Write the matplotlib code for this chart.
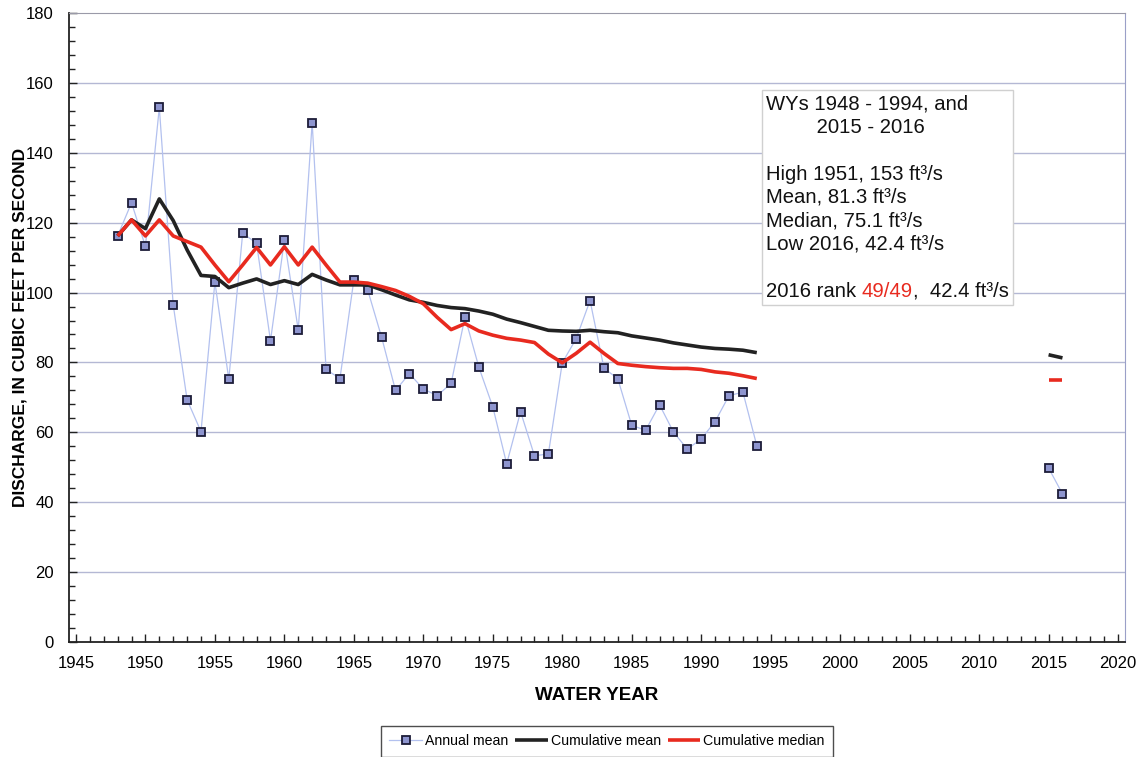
import numpy as np
import matplotlib
matplotlib.use("Agg")
import matplotlib.pyplot as plt
from matplotlib.offsetbox import TextArea, HPacker, VPacker, AnchoredOffsetbox

plt.rcParams['font.family'] = ['Liberation Sans', 'DejaVu Sans']

years = [1948, 1949, 1950, 1951, 1952, 1953, 1954, 1955, 1956, 1957,
         1958, 1959, 1960, 1961, 1962, 1963, 1964, 1965, 1966, 1967,
         1968, 1969, 1970, 1971, 1972, 1973, 1974, 1975, 1976, 1977,
         1978, 1979, 1980, 1981, 1982, 1983, 1984, 1985, 1986, 1987,
         1988, 1989, 1990, 1991, 1992, 1993, 1994, 2015, 2016]

annual_mean = [116.2, 125.7, 113.2, 153.0, 96.5, 69.3, 60.2, 103.0, 75.2, 117.0,
               114.1, 86.2, 115.0, 89.3, 148.6, 78.0, 75.4, 103.6, 100.7, 87.2,
               72.0, 76.8, 72.4, 70.5, 74.0, 93.0, 78.6, 67.3, 51.0, 65.9,
               53.3, 53.8, 79.9, 86.8, 97.7, 78.4, 75.3, 62.0, 60.6, 67.9,
               60.1, 55.2, 58.1, 63.1, 70.5, 71.5, 56.2, 49.8, 42.4]

cumulative_mean = [116.2, 120.8, 118.3, 126.8, 120.6, 112.2, 104.9, 104.6, 101.4, 102.7,
                   103.9, 102.3, 103.4, 102.3, 105.2, 103.6, 102.2, 102.2, 102.2, 100.8,
                   99.3, 97.9, 97.2, 96.3, 95.7, 95.4, 94.7, 93.8, 92.4, 91.4,
                   90.3, 89.2, 89.0, 88.9, 89.2, 88.8, 88.5, 87.6, 87.0, 86.4,
                   85.6, 85.0, 84.4, 84.0, 83.8, 83.5, 82.8, 82.2, 81.3]

cumulative_median = [116.2, 120.8, 116.2, 120.8, 116.2, 114.6, 113.0, 107.9, 103.1, 107.9,
                     112.9, 107.9, 113.1, 107.9, 113.0, 107.9, 103.0, 103.0, 102.7, 101.7,
                     100.6, 98.9, 96.8, 92.9, 89.4, 91.1, 89.0, 87.8, 86.9, 86.4,
                     85.7, 82.4, 79.9, 82.6, 85.8, 82.6, 79.7, 79.2, 78.8, 78.5,
                     78.3, 78.3, 78.0, 77.3, 76.9, 76.2, 75.4, 75.1, 75.1]

x_ticks = list(range(1945, 2021, 5))
y_ticks = list(range(0, 181, 20))


def segments(xs, ys):
    out = []
    start = 0
    for i in range(1, len(xs) + 1):
        if i == len(xs) or xs[i] - xs[i - 1] > 1:
            out.append((xs[start:i], ys[start:i]))
            start = i
    return out


fig = plt.figure(figsize=(11.42, 7.57), dpi=100)
ax = fig.add_axes([69 / 1142, 1 - 642 / 757, (1125 - 69) / 1142, (642 - 13) / 757])

grid_col = '#b4b8d4'
for yt in y_ticks[1:-1]:
    ax.axhline(yt, color=grid_col, lw=1.0, zorder=0)

line_col = '#b3c1ef'
first = True
for sx, sy in segments(years, annual_mean):
    ax.plot(sx, sy, color=line_col, lw=0.9, marker='s', markersize=6.4,
            markerfacecolor='#8e95cf', markeredgecolor='#1c1c38', markeredgewidth=1.3,
            zorder=3, label='Annual mean' if first else None)
    first = False

first = True
for sx, sy in segments(years, cumulative_mean):
    ax.plot(sx, sy, color='#222222', lw=2.6, zorder=4, solid_capstyle='butt',
            label='Cumulative mean' if first else None)
    first = False

first = True
for sx, sy in segments(years, cumulative_median):
    ax.plot(sx, sy, color='#e82a1f', lw=2.6, zorder=5, solid_capstyle='butt',
            label='Cumulative median' if first else None)
    first = False

ax.set_xlim(1944.5, 2020.5)
ax.set_ylim(0, 180)
ax.set_xticks(x_ticks)
ax.set_xticklabels([str(t) for t in x_ticks], fontsize=12)
ax.set_xticks(range(1945, 2021), minor=True)
ax.set_yticks(y_ticks)
ax.set_yticklabels([str(t) for t in y_ticks], fontsize=12)
ax.set_yticks(range(0, 181, 4), minor=True)
ax.tick_params(axis='both', which='both', direction='in', color='#222222')
ax.tick_params(axis='both', which='major', length=6, width=1)
ax.tick_params(axis='both', which='minor', length=4, width=1)
ax.tick_params(axis='x', which='major', pad=10)
ax.tick_params(axis='y', which='major', pad=11)

for s in ['left', 'bottom']:
    ax.spines[s].set_color('#222222')
    ax.spines[s].set_linewidth(1.3)
ax.spines['top'].set_color('#9a9aa8')
ax.spines['right'].set_color('#9aa0c8')

ax.set_xlabel('WATER YEAR', fontsize=13.5, fontweight='bold', labelpad=11.5)
ax.set_ylabel('DISCHARGE, IN CUBIC FEET PER SECOND', fontsize=12.5,
              fontweight='bold', labelpad=-1.5)

fs = 14.6
tp = dict(fontsize=fs, color='#111111')
lines = [
    TextArea('WYs 1948 - 1994, and', textprops=tp),
    TextArea('         2015 - 2016', textprops=tp),
    TextArea(' ', textprops=tp),
    TextArea('High 1951, 153 ft\u00b3/s', textprops=tp),
    TextArea('Mean, 81.3 ft\u00b3/s', textprops=tp),
    TextArea('Median, 75.1 ft\u00b3/s', textprops=tp),
    TextArea('Low 2016, 42.4 ft\u00b3/s', textprops=tp),
    TextArea(' ', textprops=tp),
    HPacker(children=[TextArea('2016 rank ', textprops=tp),
                      TextArea('49/49', textprops=dict(fontsize=fs, color='#e82a1f')),
                      TextArea(',  42.4 ft\u00b3/s', textprops=tp)],
            pad=0, sep=0),
]
vbox = VPacker(children=lines, pad=0, sep=3.2, align='left')
anch = AnchoredOffsetbox(loc='upper left', child=vbox, pad=0.3, borderpad=0,
                         frameon=True, bbox_to_anchor=(762 / 1142, 1 - 90 / 757),
                         bbox_transform=fig.transFigure)
anch.patch.set_edgecolor('#d0d0d0')
anch.patch.set_linewidth(1.0)
anch.patch.set_boxstyle('square', pad=0)
anch.zorder = 6
ax.add_artist(anch)

leg = fig.legend(loc='center', bbox_to_anchor=(607 / 1142, 1 - 741 / 757), ncol=3,
                 fontsize=10.2, frameon=True, fancybox=False, edgecolor='#222222',
                 handlelength=2.3, handletextpad=0.2, columnspacing=0.5,
                 borderpad=0.6, borderaxespad=0)
leg.get_frame().set_linewidth(1.0)

fig.savefig('out.png', dpi=100)
